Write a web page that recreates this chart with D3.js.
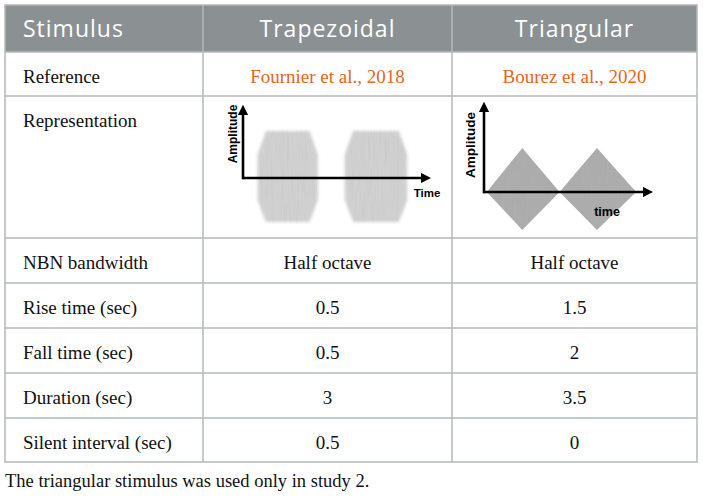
<!DOCTYPE html>
<html>
<head>
<meta charset="utf-8">
<script src="https://cdn.jsdelivr.net/npm/d3@7"></script>
<style>
  body { margin: 0; background: #fff; }
  svg { display: block; }
</style>
</head>
<body>
<svg id="table"></svg>
<script>
// table content
const columns = ['Stimulus', 'Trapezoidal', 'Triangular'];
const rowLabels = ['Reference', 'Representation', 'NBN bandwidth', 'Rise time (sec)',
                   'Fall time (sec)', 'Duration (sec)', 'Silent interval (sec)'];
const trapezoidal = ['Fournier et al., 2018', null, 'Half octave', '0.5', '0.5', '3', '0.5'];
const triangular  = ['Bourez et al., 2020', null, 'Half octave', '1.5', '2', '3.5', '0'];
const footnote = 'The triangular stimulus was used only in study 2.';

// envelopes (time, amplitude)
const trapTime1 = [0.7, 1.1, 3.2, 3.6];
const trapTime2 = [4.9, 5.3, 7.5, 7.9];
const trapAmp   = [0.5, 1, 1, 0.5];
const triTime1  = [0.15, 2.05, 4.05];
const triTime2  = [4.05, 6.05, 8.15];
const triAmp    = [0, 1, 0];

const W = 703, H = 498;
const colEdges = [5, 203, 452, 697];
const rowEdges = [5, 52, 96, 238, 283, 328, 373, 418, 462];
const border = '#b5b8b8';
const orange = '#e4661d';

const svg = d3.select('#table').attr('width', W).attr('height', H);

const defs = svg.append('defs');
function grainFilter(id, blur, strength) {
  const f = defs.append('filter').attr('id', id)
      .attr('x', '-10%').attr('y', '-10%').attr('width', '120%').attr('height', '120%');
  f.append('feGaussianBlur').attr('in', 'SourceGraphic').attr('stdDeviation', blur).attr('result', 'soft');
  f.append('feTurbulence').attr('type', 'fractalNoise').attr('baseFrequency', '0.7 0.03')
      .attr('numOctaves', 2).attr('seed', 4).attr('result', 'noise');
  f.append('feColorMatrix').attr('in', 'noise').attr('type', 'matrix')
      .attr('values', `0 0 0 0 0.5  0 0 0 0 0.5  0 0 0 0 0.5  ${strength} 0 0 0 -0.5`)
      .attr('result', 'streaks');
  f.append('feComposite').attr('in', 'streaks').attr('in2', 'soft').attr('operator', 'in').attr('result', 'inside');
  const m = f.append('feMerge');
  m.append('feMergeNode').attr('in', 'soft');
  m.append('feMergeNode').attr('in', 'inside');
}
grainFilter('grainSoft', 1.4, 1.0);
grainFilter('grainHard', 0.6, 0.9);

defs.append('marker').attr('id', 'arrow')
    .attr('viewBox', '0 0 10 10').attr('refX', 5).attr('refY', 5)
    .attr('markerWidth', 4).attr('markerHeight', 4).attr('orient', 'auto')
  .append('path').attr('d', 'M0,0 L10,5 L0,10 Z').attr('fill', '#000');

// header
svg.append('rect')
    .attr('x', colEdges[0]).attr('y', rowEdges[0])
    .attr('width', colEdges[3] - colEdges[0]).attr('height', rowEdges[1] - rowEdges[0])
    .attr('fill', '#8b9093');

svg.selectAll('.head')
  .data(columns)
  .enter()
  .append('text')
    .attr('x', (d, i) => i === 0 ? 23 : (colEdges[i] + colEdges[i + 1]) / 2)
    .attr('y', 37)
    .attr('text-anchor', (d, i) => i === 0 ? 'start' : 'middle')
    .attr('fill', '#fff')
    .style('font-family', '"Open Sans", sans-serif')
    .style('font-size', '23px')
    .style('letter-spacing', '1px')
    .text(d => d);

// grid lines
svg.selectAll('.hline')
  .data(rowEdges.slice(1, -1))
  .enter()
  .append('line')
    .attr('x1', colEdges[0]).attr('x2', colEdges[3])
    .attr('y1', d => d).attr('y2', d => d)
    .attr('stroke', border).attr('stroke-width', 1.5);

svg.selectAll('.vline')
  .data(colEdges.slice(1, -1))
  .enter()
  .append('line')
    .attr('x1', d => d).attr('x2', d => d)
    .attr('y1', rowEdges[0]).attr('y2', rowEdges[rowEdges.length - 1])
    .attr('stroke', border).attr('stroke-width', 1.5);

svg.append('rect')
    .attr('x', colEdges[0]).attr('y', rowEdges[0])
    .attr('width', colEdges[3] - colEdges[0])
    .attr('height', rowEdges[rowEdges.length - 1] - rowEdges[0])
    .attr('fill', 'none').attr('stroke', border).attr('stroke-width', 1.5);

// body text
const serif = '"Liberation Serif", "Times New Roman", serif';
const body = svg.append('g').style('font-family', serif).style('font-size', '19px');

body.selectAll('.label')
  .data(rowLabels)
  .enter()
  .append('text')
    .attr('x', 23)
    .attr('y', (d, i) => rowEdges[i + 1] + 31)
    .attr('fill', '#111')
    .text(d => d);

[trapezoidal, triangular].forEach((col, c) => {
  body.selectAll('.c' + c)
    .data(col.map((v, i) => ({ v, i })).filter(d => d.v !== null))
    .enter()
    .append('text')
      .attr('x', (colEdges[c + 1] + colEdges[c + 2]) / 2)
      .attr('y', d => rowEdges[d.i + 1] + 31)
      .attr('text-anchor', 'middle')
      .attr('fill', d => d.i === 0 ? orange : '#111')
      .text(d => d.v);
});

svg.append('text')
    .attr('x', 5).attr('y', 487)
    .style('font-family', serif).style('font-size', '18.5px')
    .attr('fill', '#111')
    .text(footnote);

// little waveform pictures
function waveform(o) {
  const x = d3.scaleLinear().domain([0, 9]).range([o.x0, o.x1]);
  const y = d3.scaleLinear().domain([-1, 0, 1]).range([o.yb, o.y0, o.yt]);
  const area = d3.area()
      .x(d => x(d.t))
      .y0(d => y(-d.a))
      .y1(d => y(d.a));
  const g = svg.append('g');
  o.bursts.forEach(times => {
    g.append('path')
        .datum(times.map((t, i) => ({ t, a: o.amp[i] })))
        .attr('d', area)
        .attr('fill', o.fill)
        .attr('filter', `url(#${o.filter})`);
  });
  g.append('line')
      .attr('x1', x(0)).attr('x2', x(9) - 4)
      .attr('y1', y(0)).attr('y2', y(0))
      .attr('stroke', '#000').attr('stroke-width', 2.6)
      .attr('marker-end', 'url(#arrow)');
  g.append('line')
      .attr('x1', x(0)).attr('x2', x(0))
      .attr('y1', y(0) + 1.3).attr('y2', o.axisTop + 4)
      .attr('stroke', '#000').attr('stroke-width', 2.6)
      .attr('marker-end', 'url(#arrow)');
  g.append('text')
      .attr('transform', `translate(${o.ampX},${o.ampY}) rotate(-90)`)
      .attr('text-anchor', 'middle')
      .style('font-family', '"Liberation Sans", Arial, sans-serif')
      .style('font-weight', 'bold').style('font-size', o.ampSize + 'px')
      .text('Amplitude');
  g.append('text')
      .attr('x', o.timeX).attr('y', o.timeY)
      .attr('text-anchor', 'middle')
      .style('font-family', '"Liberation Sans", Arial, sans-serif')
      .style('font-weight', 'bold').style('font-size', o.timeSize + 'px')
      .text(o.timeLabel);
}

waveform({
  x0: 243, x1: 430, y0: 178, yt: 131, yb: 222, axisTop: 106,
  bursts: [trapTime1, trapTime2], amp: trapAmp, fill: '#d0d0d0', filter: 'grainSoft',
  ampX: 237, ampY: 134, ampSize: 12,
  timeX: 427, timeY: 197, timeSize: 11.5, timeLabel: 'Time'
});

waveform({
  x0: 484, x1: 652, y0: 192, yt: 148, yb: 230, axisTop: 103,
  bursts: [triTime1, triTime2], amp: triAmp, fill: '#acacac', filter: 'grainHard',
  ampX: 475, ampY: 145, ampSize: 13.5,
  timeX: 607, timeY: 216, timeSize: 12.5, timeLabel: 'time'
});
</script>
</body>
</html>
